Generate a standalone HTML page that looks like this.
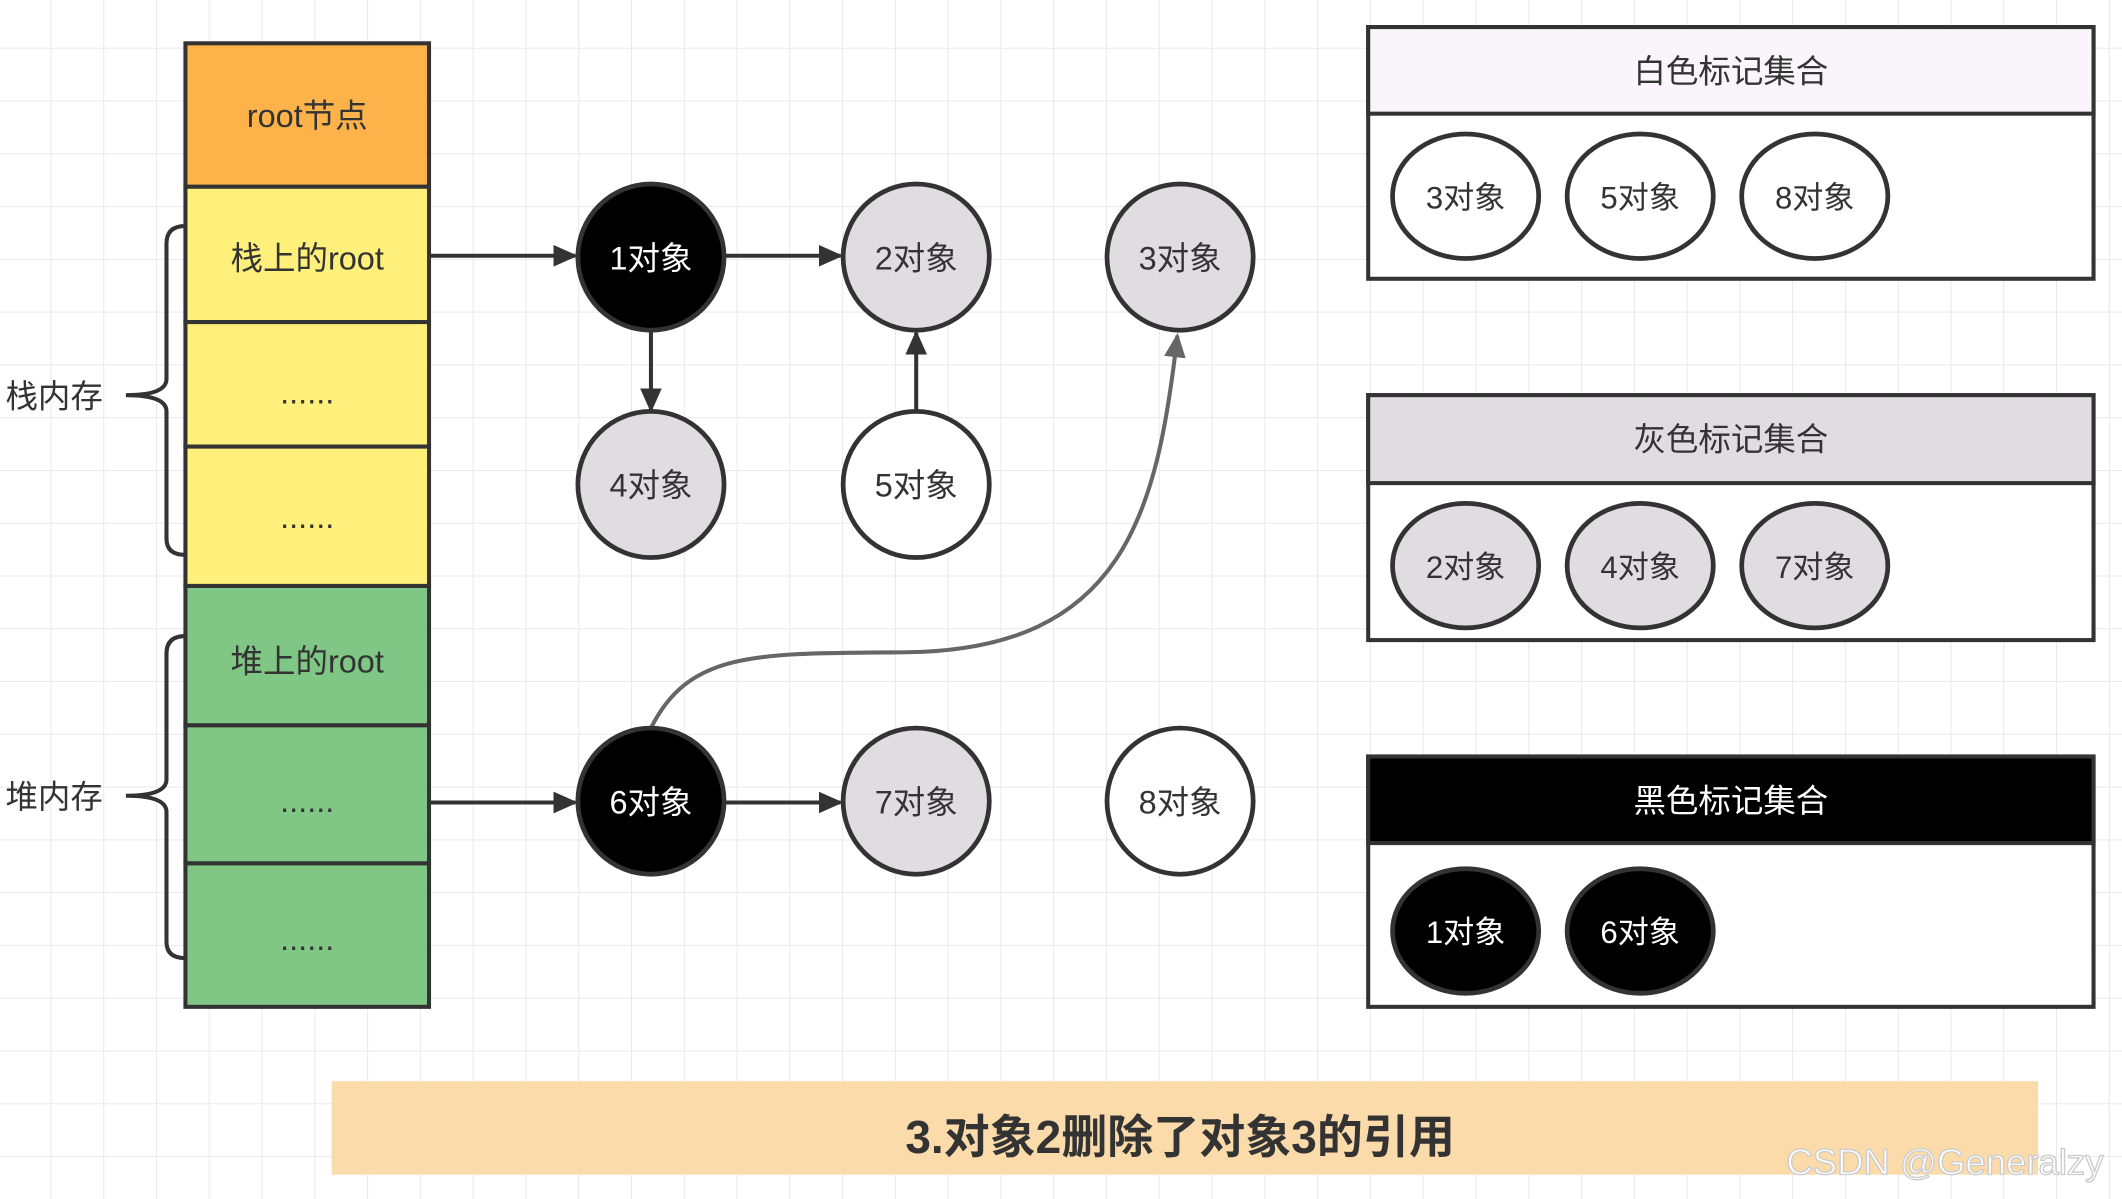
<!DOCTYPE html>
<html><head><meta charset="utf-8"><style>
html,body{margin:0;padding:0;background:#fff;}
svg{display:block;}
text{font-family:"Liberation Sans","Noto Sans CJK SC",sans-serif;}
</style></head><body>
<svg width="2122" height="1199" viewBox="0 0 1568 886" xmlns="http://www.w3.org/2000/svg">
<defs>
<pattern id="g" width="39" height="39" patternUnits="userSpaceOnUse" x="-1" y="-3">
<path d="M39 0V39M0 39H39" stroke="#e9e9e9" stroke-width="1.5" fill="none"/>
</pattern>
<marker id="a" markerWidth="10" markerHeight="10" refX="9" refY="5" orient="auto" markerUnits="userSpaceOnUse" viewBox="0 0 10 10">
<path d="M0 0L10 5L0 10z" fill="#333"/></marker>
<marker id="b" markerWidth="18" markerHeight="18" refX="16" refY="9" orient="auto" markerUnits="userSpaceOnUse" viewBox="0 0 18 18">
<path d="M0 1L18 9L0 17z" fill="#333"/></marker>
<marker id="c" markerWidth="18" markerHeight="18" refX="16" refY="9" orient="auto" markerUnits="userSpaceOnUse" viewBox="0 0 18 18">
<path d="M0 1L18 9L0 17z" fill="#666"/></marker>
</defs>
<rect width="1568" height="886" fill="#fff"/>
<rect width="1568" height="886" fill="url(#g)"/>

<g stroke="#333" stroke-width="3">
<rect x="137" y="32" width="180" height="106" fill="#FDB34A"/>
<rect x="137" y="138" width="180" height="100" fill="#FEF07A"/>
<rect x="137" y="238" width="180" height="92" fill="#FEF07A"/>
<rect x="137" y="330" width="180" height="103" fill="#FEF07A"/>
<rect x="137" y="433" width="180" height="103" fill="#80C684"/>
<rect x="137" y="536" width="180" height="102" fill="#80C684"/>
<rect x="137" y="638" width="180" height="106" fill="#80C684"/>
</g>
<g font-size="24" fill="#333" text-anchor="middle">
<text x="227" y="94">root节点</text>
<text x="227" y="199">栈上的root</text>
<text x="227" y="298">......</text>
<text x="227" y="390">......</text>
<text x="227" y="497">堆上的root</text>
<text x="227" y="600">......</text>
<text x="227" y="702">......</text>
</g>
<g fill="none" stroke="#333" stroke-width="3">
<path d="M137 167Q123 167 123 180V280Q123 292 93 292Q123 292 123 304V398Q123 410 137 410"/>
<path d="M137 470Q123 470 123 483V576Q123 588 93 588Q123 588 123 600V696Q123 708 137 708"/>
</g>
<g font-size="24" fill="#333">
<text x="4" y="301">栈内存</text>
<text x="4" y="597">堆内存</text>
</g>

<g stroke="#333" stroke-width="3" fill="none">
<line x1="317" y1="189" x2="425" y2="189" marker-end="url(#b)"/>
<line x1="535" y1="189" x2="621" y2="189" marker-end="url(#b)"/>
<line x1="481" y1="244" x2="481" y2="303" marker-end="url(#b)"/>
<line x1="677" y1="305" x2="677" y2="246" marker-end="url(#b)"/>
<line x1="317" y1="593" x2="425" y2="593" marker-end="url(#b)"/>
<line x1="535" y1="593" x2="621" y2="593" marker-end="url(#b)"/>
</g>
<path d="M481 538C510 480 560 483 670 482C830 480 855 380 870 248" fill="none" stroke="#666" stroke-width="3" marker-end="url(#c)"/>

<g stroke="#333" stroke-width="3.5">
<circle cx="481" cy="190" r="54" fill="#000"/>
<circle cx="677" cy="190" r="54" fill="#E0DDE1"/>
<circle cx="872" cy="190" r="54" fill="#E0DDE1"/>
<circle cx="481" cy="358" r="54" fill="#E0DDE1"/>
<circle cx="677" cy="358" r="54" fill="#fff"/>
<circle cx="481" cy="592" r="54" fill="#000"/>
<circle cx="677" cy="592" r="54" fill="#E0DDE1"/>
<circle cx="872" cy="592" r="54" fill="#fff"/>
</g>
<g font-size="24" text-anchor="middle" fill="#333">
<text x="481" y="199" fill="#fff">1对象</text>
<text x="677" y="199">2对象</text>
<text x="872" y="199">3对象</text>
<text x="481" y="367">4对象</text>
<text x="677" y="367">5对象</text>
<text x="481" y="601" fill="#fff">6对象</text>
<text x="677" y="601">7对象</text>
<text x="872" y="601">8对象</text>
</g>

<g stroke="#333" stroke-width="3">
<rect x="1011" y="20" width="536" height="186" fill="#fff"/>
<rect x="1011" y="20" width="536" height="64" fill="#FAF5FA"/>
<rect x="1011" y="292" width="536" height="181" fill="#fff"/>
<rect x="1011" y="292" width="536" height="65" fill="#E0DDE1"/>
<rect x="1011" y="559" width="536" height="185" fill="#fff"/>
<rect x="1011" y="559" width="536" height="64" fill="#000"/>
</g>
<g font-size="24" text-anchor="middle">
<text x="1279" y="61" fill="#333">白色标记集合</text>
<text x="1279" y="333" fill="#333">灰色标记集合</text>
<text x="1279" y="600" fill="#fff">黑色标记集合</text>
</g>
<g stroke="#333" stroke-width="3.5">
<ellipse cx="1083" cy="145" rx="54" ry="46" fill="#fff"/>
<ellipse cx="1212" cy="145" rx="54" ry="46" fill="#fff"/>
<ellipse cx="1341" cy="145" rx="54" ry="46" fill="#fff"/>
<ellipse cx="1083" cy="418" rx="54" ry="46" fill="#E0DDE1"/>
<ellipse cx="1212" cy="418" rx="54" ry="46" fill="#E0DDE1"/>
<ellipse cx="1341" cy="418" rx="54" ry="46" fill="#E0DDE1"/>
<ellipse cx="1083" cy="688" rx="54" ry="46" fill="#000"/>
<ellipse cx="1212" cy="688" rx="54" ry="46" fill="#000"/>
</g>
<g font-size="23" text-anchor="middle" fill="#333">
<text x="1083" y="154">3对象</text>
<text x="1212" y="154">5对象</text>
<text x="1341" y="154">8对象</text>
<text x="1083" y="427">2对象</text>
<text x="1212" y="427">4对象</text>
<text x="1341" y="427">7对象</text>
<text x="1083" y="697" fill="#fff">1对象</text>
<text x="1212" y="697" fill="#fff">6对象</text>
</g>

<rect x="245" y="799" width="1261" height="69" fill="#FBDBAA"/>
<text x="872" y="852" font-size="34" font-weight="bold" text-anchor="middle" fill="#333">3.对象2删除了对象3的引用</text>
<text x="1320" y="868" font-size="27" fill="#fff" stroke="#ccc" stroke-width="1">CSDN @Generalzy</text>
</svg>
</body></html>
